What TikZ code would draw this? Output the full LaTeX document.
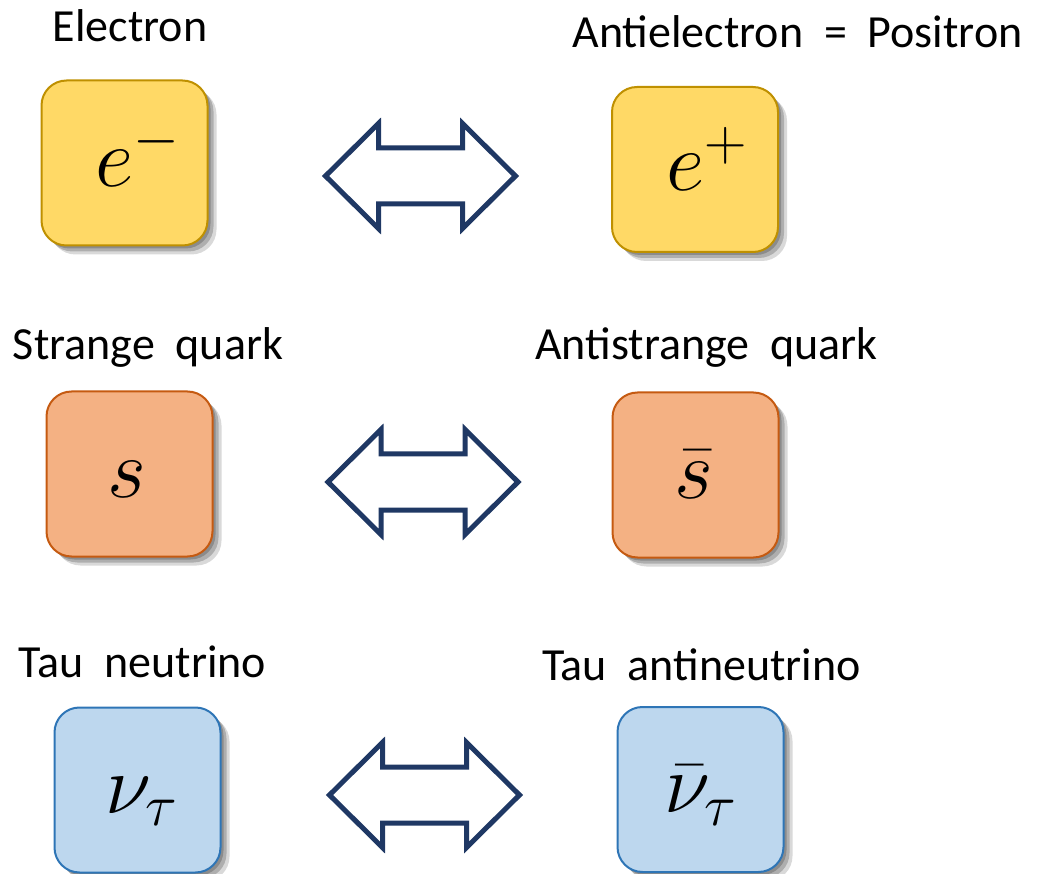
\RequirePackage{fix-cm}
\documentclass[tikz,border=0pt]{standalone}
\usepackage{fontspec}
\setmainfont{Carlito}[WordSpace=2.0]
\usetikzlibrary{shadows,calc}
\definecolor{yelfill}{HTML}{FFD966}
\definecolor{yeldraw}{HTML}{BF9000}
\definecolor{orafill}{HTML}{F4B183}
\definecolor{oradraw}{HTML}{C55A11}
\definecolor{blufill}{HTML}{BDD7EE}
\definecolor{bludraw}{HTML}{2E75B6}
\definecolor{navy}{HTML}{1F3864}
\tikzset{
  pics/dblarrow/.style={code={%
    \draw[dbl] (-95,0) -- (-42,-52.5) -- (-42,-28) -- (42,-28) -- (42,-52.5) -- (95,0)
      -- (42,52.5) -- (42,28) -- (-42,28) -- (-42,52.5) -- cycle;}}
}
\begin{document}
\begin{tikzpicture}[x=1pt,y=-1pt,
  box/.style={draw, line width=2pt, rounded corners=25pt, minimum width=166pt,
    minimum height=165pt, inner sep=0pt,
    drop shadow={shadow xshift=3pt, shadow yshift=-3pt, opacity=0.2, fill=black},
    drop shadow={shadow xshift=6pt, shadow yshift=-6pt, opacity=0.2, fill=black},
    drop shadow={shadow xshift=9pt, shadow yshift=-9pt, opacity=0.15, fill=black}},
  ybox/.style={box, fill=yelfill, draw=yeldraw},
  obox/.style={box, fill=orafill, draw=oradraw},
  bbox/.style={box, fill=blufill, draw=bludraw},
  lbl/.style={font=\fontsize{46}{50}\selectfont, anchor=base, inner sep=0pt},
  sym/.style={font=\fontsize{84}{90}\selectfont, anchor=base, inner sep=0pt},
  dbl/.style={draw=navy, line width=5pt, fill=white, line join=miter}
]
\useasboundingbox (0,0) rectangle (1050,874);

% boxes
\node[ybox] (b1) at (124.5,163) {};
\node[ybox] (b2) at (695,169.5) {};
\node[obox] (b3) at (129.5,474) {};
\node[obox] (b4) at (695.5,475) {};
\node[bbox] (b5) at (137.5,790) {};
\node[bbox] (b6) at (700.5,789.5) {};

% symbols
\node[sym] (s1) at ($(b1.center)+(13,24)$) {$e^-$};
\node[sym] (s2) at ($(b2.center)+(12,21)$) {$e^+$};
\node[sym] (s3) at ($(b3.center)+(-3,23)$) {$s$};
\node[sym] (s4) at ($(b4.center)+(-2,23)$) {$\bar{s}$};
\node[sym] (s5) at ($(b5.center)+(4,23)$) {$\nu_\tau$};
\node[sym] (s6) at ($(b6.center)+(0,23)$) {$\bar{\nu}_\tau$};

% labels
\node[lbl] (l1) at (130,42) {Electron};
\node[lbl] (l2) at (797.5,48) {Antielectron = Positron};
\node[lbl] (l3) at (148,360) {Strange quark};
\node[lbl] (l4) at (706.5,360) {Antistrange quark};
\node[lbl] (l5) at (142.5,677) {Tau neutrino};
\node[lbl] (l6) at (701.5,680) {Tau antineutrino};

% double arrows
\coordinate (a1) at (420.5,176);
\coordinate (a2) at (423,482);
\coordinate (a3) at (424.5,795);
\pic at (a1) {dblarrow};
\pic at (a2) {dblarrow};
\pic at (a3) {dblarrow};
\end{tikzpicture}
\end{document}
